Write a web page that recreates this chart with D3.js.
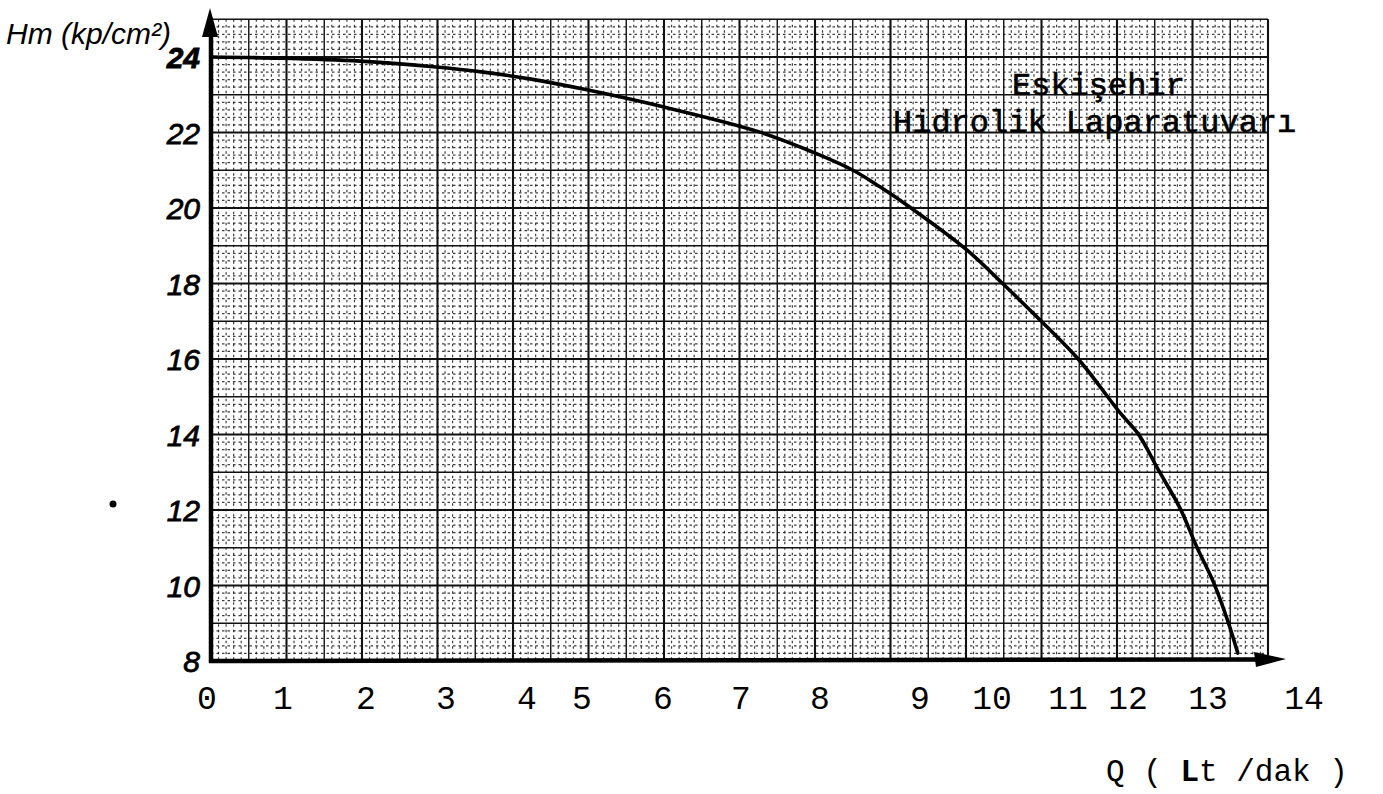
<!DOCTYPE html>
<html>
<head>
<meta charset="utf-8">
<script src="https://cdn.jsdelivr.net/npm/d3@7"></script>
<style>
  body { margin: 0; background: #fff; }
  svg { display: block; }
</style>
</head>
<body>
<div id="content"></div>
<script>
(function(d3) {

   // pump curve: Q (lt/dak) vs Hm (kp/cm2)
   var qValues = [0, 0.96, 1.93, 2.84, 3.46, 4.05, 5.06, 6.0, 7.24, 7.91, 8.33, 8.6, 8.91,
                  9.65, 10.16, 10.66, 11.17, 11.87, 12.13, 12.38, 12.65, 12.86, 13.06, 13.21, 13.31];
   var hValues = [24.0, 23.97, 23.89, 23.74, 23.6, 23.42, 23.13, 22.68, 22.01, 21.48, 21.0, 20.56, 20.0,
                  18.89, 17.96, 16.98, 16.0, 14.57, 14.01, 13.06, 12.05, 11.02, 10.07, 9.03, 8.21];

   var qTicks = [0, 1, 2, 3, 4, 5, 6, 7, 8, 9, 10, 11, 12, 13, 14];
   var hTicks = [8, 10, 12, 14, 16, 18, 20, 22, 24];

   var yTitle = "Hm (kp/cm²)";
   var labLines = ["Eskişehir", "Hidrolik Laparatuvarı"];

   var win_width = 1383;
   var win_height = 794;

   var svg = d3.select("#content")
            .append("svg")
            .attr("width", win_width)
            .attr("height", win_height)
            .style("background", "white");

   // handwritten labels are not evenly spaced, so the x scale is piecewise
   var x = d3.scaleLinear()
             .domain(qTicks)
             .range([211, 283, 366, 446, 527, 582, 663, 741, 820, 920, 992, 1068, 1128, 1208, 1304]);
   var y = d3.scaleLinear().domain([8, 24]).range([661, 57]);

   // graph paper: 5 mm squares split into 1 mm dots
   var cell = y(8) - y(9);
   var left = x(0), bottom = y(8);
   var cols = 28, rows = 17;
   var right = left + cols * cell, top = bottom - rows * cell;

   var paper = svg.append("g");
   var minorV = d3.range(0, cols * 5 + 1).filter(function(i) { return i % 5; });
   var minorH = d3.range(0, rows * 5 + 1).filter(function(i) { return i % 5; });

   paper.selectAll(".mv").data(minorV).enter().append("line")
        .attr("x1", function(i) { return left + i * cell / 5; })
        .attr("x2", function(i) { return left + i * cell / 5; })
        .attr("y1", top).attr("y2", bottom)
        .style("stroke", "#111").style("stroke-width", 1.2)
        .style("stroke-dasharray", "2.5,3").style("opacity", 0.8);

   paper.selectAll(".mh").data(minorH).enter().append("line")
        .attr("y1", function(i) { return bottom - i * cell / 5; })
        .attr("y2", function(i) { return bottom - i * cell / 5; })
        .attr("x1", left).attr("x2", right)
        .style("stroke", "#111").style("stroke-width", 1.2)
        .style("stroke-dasharray", "2.5,3").style("opacity", 0.8);

   paper.selectAll(".MV").data(d3.range(1, cols + 1)).enter().append("line")
        .attr("x1", function(i) { return left + i * cell; })
        .attr("x2", function(i) { return left + i * cell; })
        .attr("y1", top).attr("y2", bottom)
        .style("stroke", "#111")
        .style("stroke-width", function(i) { return i % 2 ? 1.4 : 2.1; });

   paper.selectAll(".MH").data(d3.range(1, rows + 1)).enter().append("line")
        .attr("y1", function(i) { return bottom - i * cell; })
        .attr("y2", function(i) { return bottom - i * cell; })
        .attr("x1", left).attr("x2", right)
        .style("stroke", "#111")
        .style("stroke-width", function(i) { return i % 2 ? 1.4 : 2.1; });

   // axes with arrows
   svg.append("line")
      .attr("x1", left).attr("y1", bottom + 2).attr("x2", left).attr("y2", 30)
      .style("stroke", "black").style("stroke-width", 4.5);
   svg.append("path")
      .attr("d", "M" + (left - 1) + ",8 L" + (left - 9) + ",37 L" + (left + 7) + ",37 Z")
      .style("fill", "black");

   svg.append("line")
      .attr("x1", left - 2).attr("y1", bottom).attr("x2", 1262).attr("y2", bottom - 1.5)
      .style("stroke", "black").style("stroke-width", 4.5);
   svg.append("path")
      .attr("d", "M1286,659 L1254,652 L1256,667 Z")
      .style("fill", "black");

   // curve
   var pts = qValues.map(function(q, i) { return [q, hValues[i]]; });
   var line = d3.line()
                .x(function(d) { return x(d[0]); })
                .y(function(d) { return y(d[1]); })
                .curve(d3.curveCatmullRom.alpha(0.5));

   svg.append("path")
      .datum(pts)
      .attr("d", line)
      .style("fill", "none")
      .style("stroke", "black")
      .style("stroke-width", 3.6)
      .style("stroke-linecap", "round");

   // handwritten H labels
   svg.selectAll(".hl").data(hTicks).enter().append("text")
      .attr("x", 200)
      .attr("y", function(d) { return y(d) + 11; })
      .attr("text-anchor", "end")
      .style("font-family", "'Liberation Sans', sans-serif")
      .style("font-style", "italic")
      .style("font-size", "30px")
      .style("font-weight", function(d) { return d === 24 ? "bold" : "normal"; })
      .style("stroke", "black").style("stroke-width", 0.8)
      .text(function(d) { return d; });

   svg.append("text")
      .attr("x", 6).attr("y", 44)
      .style("font-family", "'Liberation Sans', sans-serif")
      .style("font-style", "italic")
      .style("font-size", "30px")
      .text(yTitle);

   // typed Q labels
   svg.selectAll(".ql").data(qTicks).enter().append("text")
      .attr("x", function(d) { return d === 0 ? x(d) - 4 : x(d); })
      .attr("y", 709)
      .attr("text-anchor", "middle")
      .style("font-family", "'Liberation Mono', monospace")
      .style("font-size", "33px")
      .text(function(d) { return d; });

   var qt = svg.append("text")
      .attr("x", 1106).attr("y", 781)
      .style("font-family", "'Liberation Mono', monospace")
      .style("font-size", "31px")
      .attr("xml:space", "preserve");
   qt.append("tspan").text("Q ( ");
   qt.append("tspan").style("font-weight", "bold").text("L");
   qt.append("tspan").text("t /dak )");

   svg.selectAll(".lab").data(labLines).enter().append("text")
      .attr("x", function(d, i) { return i ? 893 : 1012; })
      .attr("y", function(d, i) { return 95 + i * 37; })
      .style("font-family", "'Liberation Mono', monospace")
      .style("font-size", "32px")
      .style("stroke", "black").style("stroke-width", 0.6)
      .text(function(d) { return d; });

   // scanner speck left of the axis
   svg.append("circle").attr("cx", 113).attr("cy", 504).attr("r", 3.5).style("fill", "black");

})(window.d3);
</script>
</body>
</html>
